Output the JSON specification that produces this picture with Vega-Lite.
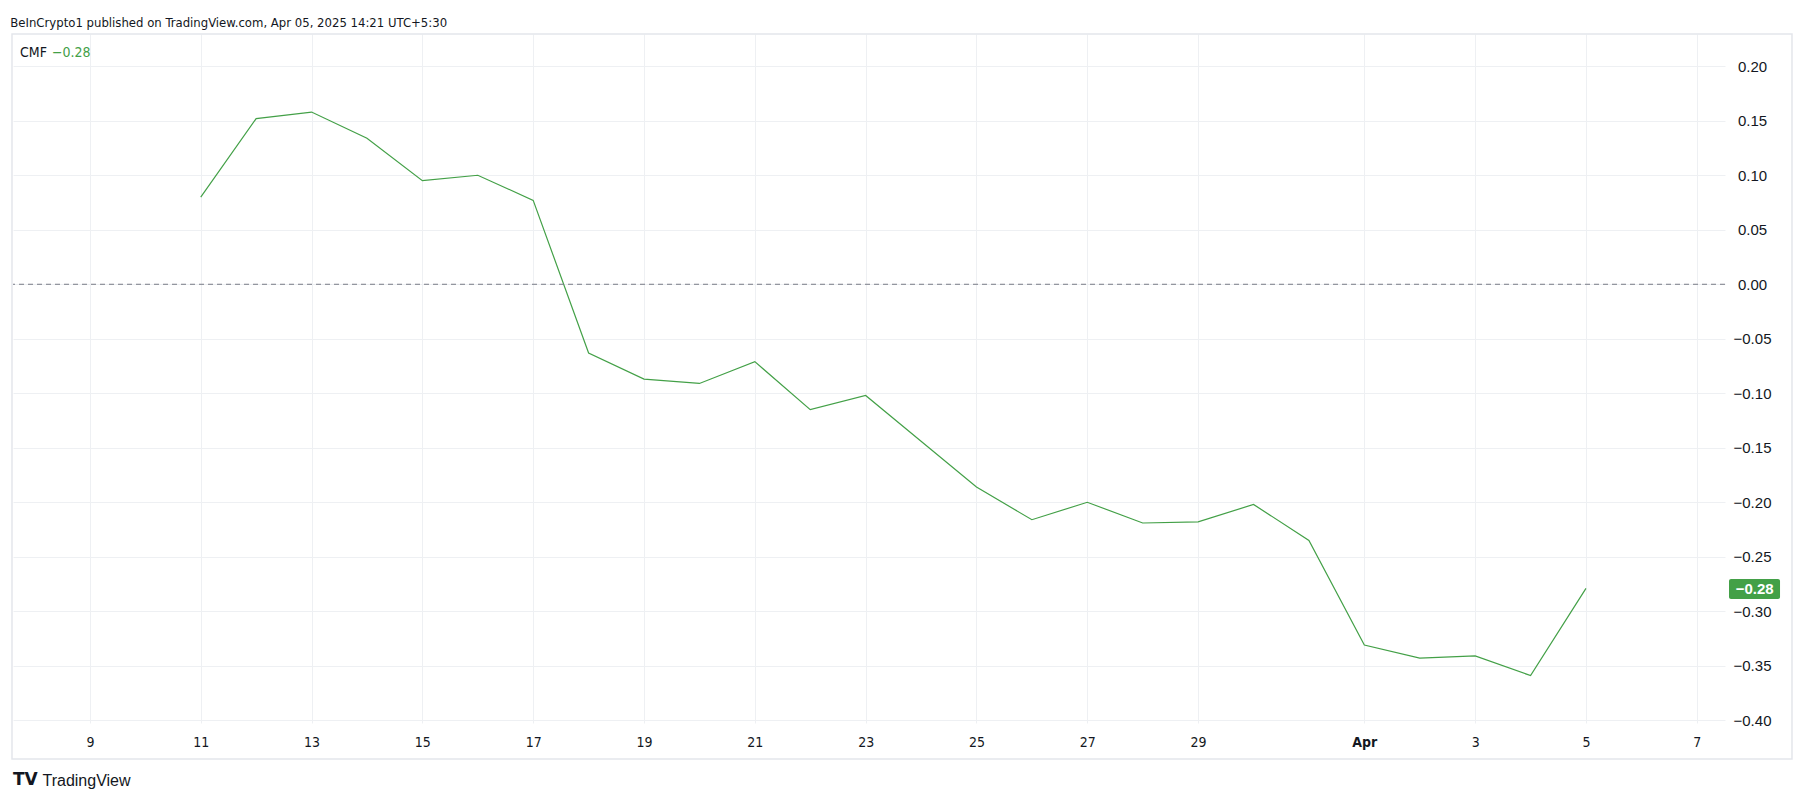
{
  "$schema": "https://vega.github.io/schema/vega-lite/v6.json",
  "autosize": {"type": "none"},
  "width": 1712,
  "height": 689,
  "padding": {"left": 13, "top": 34, "right": 80, "bottom": 80},
  "background": "#ffffff",
  "config": {
    "view": {"stroke": null},
    "font": "Liberation Sans"
  },
  "title": {
    "text": "BeInCrypto1 published on TradingView.com, Apr 05, 2025 14:21 UTC+5:30",
    "anchor": "start",
    "orient": "top",
    "offset": -3,
    "baseline": "middle",
    "dx": -1,
    "font": "DejaVu Sans Condensed, Liberation Sans",
    "fontSize": 13,
    "fontWeight": "normal",
    "color": "#131722"
  },
  "resolve": {"axis": {"x": "independent", "y": "independent"}},
  "data": {
    "values": [
      {"date": "2025-03-11", "cmf": 0.080},
      {"date": "2025-03-12", "cmf": 0.152},
      {"date": "2025-03-13", "cmf": 0.158},
      {"date": "2025-03-14", "cmf": 0.134},
      {"date": "2025-03-15", "cmf": 0.095},
      {"date": "2025-03-16", "cmf": 0.100},
      {"date": "2025-03-17", "cmf": 0.077},
      {"date": "2025-03-18", "cmf": -0.063},
      {"date": "2025-03-19", "cmf": -0.087},
      {"date": "2025-03-20", "cmf": -0.091},
      {"date": "2025-03-21", "cmf": -0.071},
      {"date": "2025-03-22", "cmf": -0.115},
      {"date": "2025-03-23", "cmf": -0.102},
      {"date": "2025-03-24", "cmf": -0.144},
      {"date": "2025-03-25", "cmf": -0.186},
      {"date": "2025-03-26", "cmf": -0.216},
      {"date": "2025-03-27", "cmf": -0.200},
      {"date": "2025-03-28", "cmf": -0.219},
      {"date": "2025-03-29", "cmf": -0.218},
      {"date": "2025-03-30", "cmf": -0.202},
      {"date": "2025-03-31", "cmf": -0.235},
      {"date": "2025-04-01", "cmf": -0.331},
      {"date": "2025-04-02", "cmf": -0.343},
      {"date": "2025-04-03", "cmf": -0.341},
      {"date": "2025-04-04", "cmf": -0.359},
      {"date": "2025-04-05", "cmf": -0.279}
    ]
  },
  "layer": [
    {
      "data": {"values": [{}]},
      "mark": {"type": "rect", "clip": false, "fill": null, "stroke": "#e4e6eb", "strokeWidth": 1.5},
      "encoding": {
        "x": {"datum": {"year": 2025, "month": 3, "date": 7, "hours": 14, "minutes": 15, "utc": true}, "type": "temporal",
              "scale": {"type": "utc", "domain": [{"year": 2025, "month": 3, "date": 7, "hours": 14, "minutes": 41, "utc": true}, {"year": 2025, "month": 4, "date": 7, "hours": 12, "minutes": 13, "utc": true}]}, "axis": null},
        "x2": {"datum": {"year": 2025, "month": 4, "date": 8, "hours": 17, "minutes": 14, "utc": true}},
        "y": {"datum": 0.2296, "type": "quantitative", "scale": {"domain": [-0.4025, 0.2296], "nice": false, "zero": false}, "axis": null},
        "y2": {"datum": -0.4355}
      }
    },
    {
      "mark": {"type": "line", "color": "#43a047", "strokeWidth": 1.2, "interpolate": "linear"},
      "encoding": {
        "x": {
          "field": "date", "type": "temporal",
          "scale": {"type": "utc", "domain": [{"year": 2025, "month": 3, "date": 7, "hours": 14, "minutes": 41, "utc": true}, {"year": 2025, "month": 4, "date": 7, "hours": 12, "minutes": 13, "utc": true}]},
          "axis": {
            "orient": "bottom",
            "values": [
              {"year": 2025, "month": 3, "date": 9, "utc": true},
              {"year": 2025, "month": 3, "date": 11, "utc": true},
              {"year": 2025, "month": 3, "date": 13, "utc": true},
              {"year": 2025, "month": 3, "date": 15, "utc": true},
              {"year": 2025, "month": 3, "date": 17, "utc": true},
              {"year": 2025, "month": 3, "date": 19, "utc": true},
              {"year": 2025, "month": 3, "date": 21, "utc": true},
              {"year": 2025, "month": 3, "date": 23, "utc": true},
              {"year": 2025, "month": 3, "date": 25, "utc": true},
              {"year": 2025, "month": 3, "date": 27, "utc": true},
              {"year": 2025, "month": 3, "date": 29, "utc": true},
              {"year": 2025, "month": 4, "date": 1, "utc": true},
              {"year": 2025, "month": 4, "date": 3, "utc": true},
              {"year": 2025, "month": 4, "date": 5, "utc": true},
              {"year": 2025, "month": 4, "date": 7, "utc": true}
            ],
            "labelExpr": "utcdate(datum.value) == 1 ? 'Apr' : '' + utcdate(datum.value)",
            "labelFontWeight": {"condition": {"test": "utcdate(datum.value) == 1", "value": "bold"}, "value": "normal"},
            "labelFont": "DejaVu Sans Condensed, Liberation Sans",
            "labelFontSize": 14,
            "labelColor": "#131722",
            "labelBaseline": "middle",
            "labelPadding": 19,
            "labelFlush": false,
            "labelOverlap": false,
            "ticks": false,
            "domain": false,
            "grid": true,
            "gridColor": "#eef0f3",
            "gridWidth": 1,
            "title": "TradingView",
            "titleAnchor": "start",
            "titleAlign": "left",
            "titleBaseline": "middle",
            "titleX": 29,
            "titleY": 57,
            "titleFont": "Liberation Sans",
            "titleFontSize": 16,
            "titleFontWeight": "normal",
            "titleColor": "#131722"
          }
        },
        "y": {
          "field": "cmf", "type": "quantitative",
          "scale": {"domain": [-0.4025, 0.2296], "nice": false, "zero": false},
          "axis": {
            "orient": "right",
            "values": [-0.4, -0.35, -0.3, -0.25, -0.2, -0.15, -0.1, -0.05, 0, 0.05, 0.1, 0.15, 0.2],
            "format": ".2f",
            "labelFont": "Liberation Sans",
            "labelFontSize": 15,
            "labelColor": "#131722",
            "labelAlign": "center",
            "labelPadding": 27,
            "labelFlush": false,
            "labelOverlap": false,
            "ticks": false,
            "domain": false,
            "grid": true,
            "gridColor": "#eef0f3",
            "gridWidth": 1,
            "title": null
          }
        }
      }
    },
    {
      "data": {"values": [{}]},
      "mark": {"type": "rule", "color": "#787b86", "strokeWidth": 1, "strokeDash": [5, 4]},
      "encoding": {
        "y": {"datum": 0, "type": "quantitative", "scale": {"domain": [-0.4025, 0.2296], "nice": false, "zero": false}, "axis": null}
      }
    },
    {
      "data": {"values": [{}]},
      "mark": {"type": "text", "clip": false, "align": "left", "baseline": "middle", "fontSize": 14, "font": "DejaVu Sans Condensed, Liberation Sans", "color": "#131722", "text": "CMF"},
      "encoding": {
        "x": {"datum": {"year": 2025, "month": 3, "date": 7, "hours": 17, "minutes": 43, "utc": true}, "type": "temporal", "scale": {"type": "utc", "domain": [{"year": 2025, "month": 3, "date": 7, "hours": 14, "minutes": 41, "utc": true}, {"year": 2025, "month": 4, "date": 7, "hours": 12, "minutes": 13, "utc": true}]}, "axis": null},
        "y": {"datum": 0.2119, "type": "quantitative", "scale": {"domain": [-0.4025, 0.2296], "nice": false, "zero": false}, "axis": null}
      }
    },
    {
      "data": {"values": [{}]},
      "mark": {"type": "text", "clip": false, "align": "left", "baseline": "middle", "fontSize": 14, "font": "DejaVu Sans Condensed, Liberation Sans", "color": "#43a047", "text": "−0.28"},
      "encoding": {
        "x": {"datum": {"year": 2025, "month": 3, "date": 8, "hours": 7, "minutes": 35, "utc": true}, "type": "temporal", "scale": {"type": "utc", "domain": [{"year": 2025, "month": 3, "date": 7, "hours": 14, "minutes": 41, "utc": true}, {"year": 2025, "month": 4, "date": 7, "hours": 12, "minutes": 13, "utc": true}]}, "axis": null},
        "y": {"datum": 0.2119, "type": "quantitative", "scale": {"domain": [-0.4025, 0.2296], "nice": false, "zero": false}, "axis": null}
      }
    },
    {
      "data": {"values": [{}]},
      "mark": {"type": "rect", "clip": false, "color": "#43a047", "cornerRadius": 2},
      "encoding": {
        "x": {"datum": {"year": 2025, "month": 4, "date": 7, "hours": 13, "minutes": 57, "utc": true}, "type": "temporal", "scale": {"type": "utc", "domain": [{"year": 2025, "month": 3, "date": 7, "hours": 14, "minutes": 41, "utc": true}, {"year": 2025, "month": 4, "date": 7, "hours": 12, "minutes": 13, "utc": true}]}, "axis": null},
        "x2": {"datum": {"year": 2025, "month": 4, "date": 8, "hours": 12, "minutes": 3, "utc": true}},
        "y": {"datum": -0.2704, "type": "quantitative", "scale": {"domain": [-0.4025, 0.2296], "nice": false, "zero": false}, "axis": null},
        "y2": {"datum": -0.2887}
      }
    },
    {
      "data": {"values": [{}]},
      "mark": {"type": "text", "clip": false, "align": "center", "baseline": "middle", "fontSize": 15, "font": "Liberation Sans", "fontWeight": "bold", "color": "#ffffff", "text": "−0.28"},
      "encoding": {
        "x": {"datum": {"year": 2025, "month": 4, "date": 8, "hours": 1, "minutes": 3, "utc": true}, "type": "temporal", "scale": {"type": "utc", "domain": [{"year": 2025, "month": 3, "date": 7, "hours": 14, "minutes": 41, "utc": true}, {"year": 2025, "month": 4, "date": 7, "hours": 12, "minutes": 13, "utc": true}]}, "axis": null},
        "y": {"datum": -0.28, "type": "quantitative", "scale": {"domain": [-0.4025, 0.2296], "nice": false, "zero": false}, "axis": null}
      }
    },
    {
      "data": {"values": [{}]},
      "mark": {"type": "text", "clip": false, "align": "left", "baseline": "middle", "fontSize": 17, "font": "DejaVu Sans", "fontWeight": "bold", "color": "#131722", "text": "TV"},
      "encoding": {
        "x": {"datum": {"year": 2025, "month": 3, "date": 7, "hours": 14, "minutes": 41, "utc": true}, "type": "temporal", "scale": {"type": "utc", "domain": [{"year": 2025, "month": 3, "date": 7, "hours": 14, "minutes": 41, "utc": true}, {"year": 2025, "month": 4, "date": 7, "hours": 12, "minutes": 13, "utc": true}]}, "axis": null},
        "y": {"datum": -0.4548, "type": "quantitative", "scale": {"domain": [-0.4025, 0.2296], "nice": false, "zero": false}, "axis": null}
      }
    }
  ]
}
